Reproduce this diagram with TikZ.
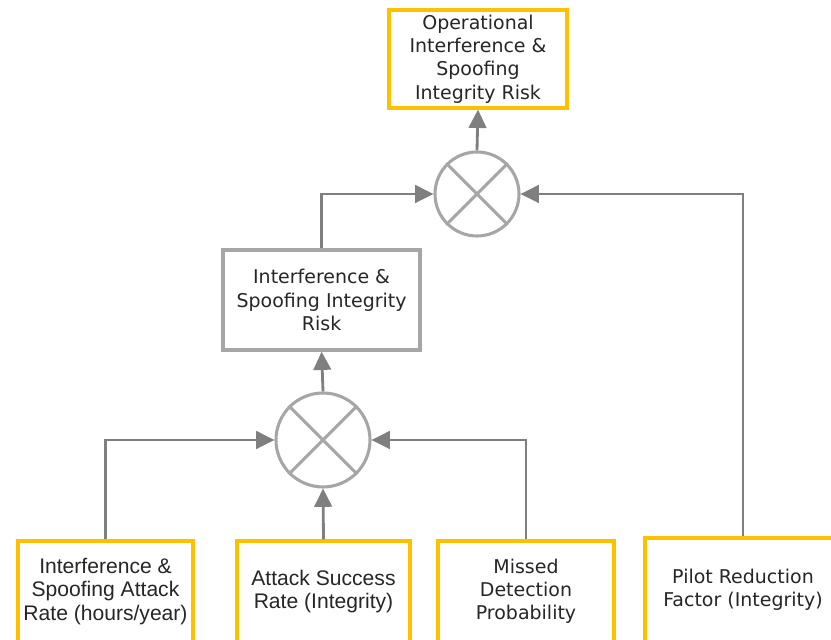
\documentclass[tikz,border=0pt]{standalone}
\usepackage{fontspec}
\setmainfont{DejaVu Sans}
\newfontfamily\arialfont{Liberation Sans}
\usetikzlibrary{arrows.meta}
\definecolor{boxyellow}{HTML}{FFC000}
\definecolor{boxgray}{HTML}{A6A6A6}
\definecolor{linegray}{HTML}{7F7F7F}
\definecolor{textgray}{HTML}{262626}
\begin{document}
\begin{tikzpicture}[
        inbox/.style={rectangle, draw=boxyellow, line width=2.4pt, fill=white, align=center, text=textgray, font=\fontsize{13.5}{16.5}\selectfont},
        midbox/.style={inbox, draw=boxgray},
        arialbox/.style={inbox, font=\arialfont\fontsize{15}{16.5}\selectfont},
        mult/.style={circle, draw=boxgray, line width=2.2pt, fill=white},
        arrow/.style={-{Triangle[length=13pt, width=12.5pt]}, draw=linegray, line width=2pt},
        cross/.style={draw=boxgray, line width=2.2pt}
    ]
        \useasboundingbox (0,0) rectangle (20.775,16);

        % Output at the top
        \node[inbox, minimum width=4.45cm, minimum height=2.45cm] (opRisk) at (11.95,14.525) {Operational\\Interference \&\\Spoofing\\Integrity Risk};

        % Upper multiplier
        \node[mult, minimum size=2.1cm] (mulTop) at (11.925,11.15) {};
        \draw[cross] (mulTop.north west) -- (mulTop.south east);
        \draw[cross] (mulTop.north east) -- (mulTop.south west);

        % Intermediate risk
        \node[midbox, minimum width=4.925cm, minimum height=2.5cm] (isRisk) at (8.04,8.5) {Interference \&\\Spoofing Integrity\\Risk};

        % Lower multiplier
        \node[mult, minimum size=2.35cm] (mulBot) at (8.075,5.0) {};
        \draw[cross] (mulBot.north west) -- (mulBot.south east);
        \draw[cross] (mulBot.north east) -- (mulBot.south west);

        % Inputs along the bottom
        \node[arialbox, minimum width=4.375cm, minimum height=2.525cm] (attRate) at (2.6375,1.2125) {Interference \&\\Spoofing Attack\\Rate (hours/year)};
        \node[arialbox, minimum width=4.325cm, minimum height=2.525cm] (attSucc) at (8.0875,1.2125) {Attack Success\\Rate (Integrity)};
        \node[inbox, minimum width=4.4cm, minimum height=2.525cm] (missDet) at (13.15,1.2125) {Missed\\Detection\\Probability};
        \node[inbox, minimum width=4.9cm, minimum height=2.6cm] (pilotRF) at (18.575,1.25) {Pilot Reduction\\Factor (Integrity)};

        % Connectors
        \draw[arrow] (attRate.north) |- (mulBot.west);
        \draw[arrow] (attSucc.north) -- (mulBot.south);
        \draw[arrow] (missDet.north) |- (mulBot.east);
        \draw[arrow] (mulBot.north) -- (isRisk.south);
        \draw[arrow] (isRisk.north) |- (mulTop.west);
        \draw[arrow] (pilotRF.north) |- (mulTop.east);
        \draw[arrow] (mulTop.north) -- (opRisk.south);

    \end{tikzpicture}
\end{document}
